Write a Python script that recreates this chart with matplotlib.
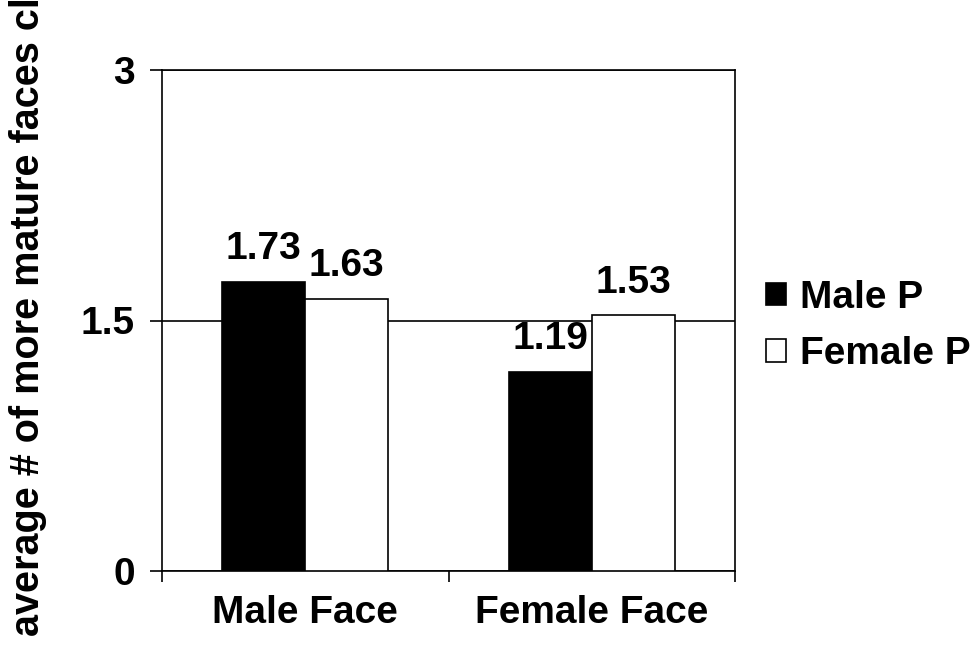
import matplotlib
matplotlib.use("Agg")
import matplotlib.pyplot as plt
import numpy as np

categories = ["Male Face", "Female Face"]
series_names = ["Male P", "Female P"]
male_p = [1.73, 1.19]
female_p = [1.63, 1.53]
yticks = [0, 1.5, 3]
ytick_labels = ["0", "1.5", "3"]
ylabel = "average # of more mature faces cl"

plt.rcParams["font.family"] = ["Liberation Sans", "DejaVu Sans"]
plt.rcParams["font.weight"] = "bold"
FS = 28

fig = plt.figure(figsize=(9.76, 6.45), dpi=100)
ax = fig.add_axes([162 / 976, 74 / 645, (735 - 162) / 976, (571 - 70) / 645])

x = np.arange(len(categories))
w = 0.29
b1 = ax.bar(x - w / 2, male_p, w, color="black", edgecolor="black", linewidth=1.2,
            label=series_names[0], zorder=3)
b2 = ax.bar(x + w / 2, female_p, w, color="white", edgecolor="black", linewidth=1.2,
            label=series_names[1], zorder=3)

for bars, vals in ((b1, male_p), (b2, female_p)):
    for rect, v in zip(bars, vals):
        ax.annotate(f"{v:.2f}", (rect.get_x() + rect.get_width() / 2, v),
                    xytext=(0, 16.5), textcoords="offset points",
                    ha="center", va="baseline", fontsize=FS, fontweight="bold")

ax.set_xlim(-0.5, 1.5)
ax.set_ylim(0, 3)
ax.set_yticks(yticks)
ax.set_yticklabels(ytick_labels, fontsize=FS, fontweight="bold")
ax.set_xticks([-0.5, 0.5, 1.5], minor=False)
ax.set_xticklabels([])
ax.set_xticks(x, minor=True)
ax.set_xticklabels(categories, minor=True, fontsize=FS, fontweight="bold")
ax.tick_params(axis="x", which="major", direction="out", length=8, width=1.2)
ax.tick_params(axis="x", which="minor", length=0, pad=17.5)
ax.tick_params(axis="y", direction="out", length=8.5, width=1.2, pad=11)

ax.grid(axis="y", color="black", linewidth=1.2, zorder=0)
for s in ax.spines.values():
    s.set_linewidth(1.2)
    s.set_color("black")

fig.text(28 / 976, 1 - 636 / 645, ylabel, rotation=90, ha="center", va="bottom",
         fontsize=28.5, fontweight="bold")

leg = ax.legend(loc="center left", bbox_to_anchor=(1.054, 0.489),
                bbox_transform=ax.transAxes, frameon=False,
                fontsize=FS, handlelength=0.52, handleheight=0.52,
                handletextpad=0.36, labelspacing=0.52, borderaxespad=0,
                borderpad=0)
for t in leg.get_texts():
    t.set_fontweight("bold")

fig.savefig("out.png", dpi=100)
